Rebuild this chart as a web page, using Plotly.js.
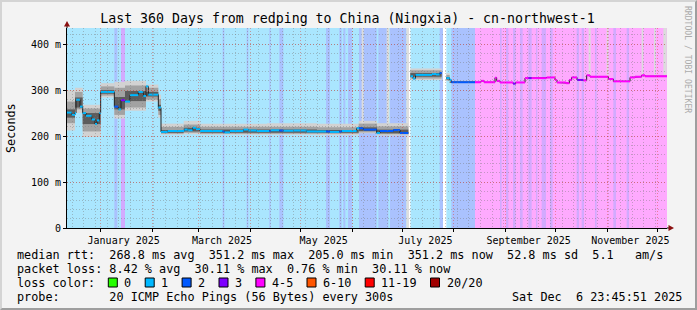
<!DOCTYPE html>
<html><head><meta charset="utf-8">
<script src="https://cdn.plot.ly/plotly-3.0.1.min.js"></script>
<style>
html,body{margin:0;padding:0;background:#f3f3f3;}
#wrap{position:relative;width:697px;height:310px;overflow:hidden;}
#chart{position:absolute;left:0;top:0;width:697px;height:310px;}
#frame{position:absolute;left:0;top:0;width:697px;height:310px;box-sizing:border-box;border-top:2px solid #d4d4d4;border-left:2px solid #d4d4d4;border-right:2px solid #9e9e9e;border-bottom:2px solid #9e9e9e;pointer-events:none;}
</style></head><body>
<div id="wrap"><div id="chart"></div><div id="frame"></div></div>
<script>
// ---------- data (days measured from the start of the 360 day window) ----------
const DAY = 86400000;
const T0 = Date.UTC(2024, 11, 11, 23, 45, 51);   // Sat Dec 6 23:45:51 2025 minus 360 days
const SPAN_DAYS = 360;
const Y_TOP = 435;

// background loss runs (0 = no data, 1..4 = loss class, 5 = grey)
const bgFrom = [0, 244.8, 28.4, 32.4, 93.4, 107.8, 121.4, 127.4, 155.4, 163.4, 165.8, 168.6, 175.2, 186.8, 193.8, 203.6, 205.2, 223.6, 225.6, 230.6, 259.8, 263.4, 267.6, 271.8, 276.8, 281.4, 284.8, 289.8, 305.8, 308.8, 316.8, 327.8, 335.8];
const bgTo   = [244.8, 360, 30.2, 34.8, 94.4, 108.8, 122.2, 129.8, 157.8, 164.8, 167.0, 171.0, 185.8, 192.8, 203.6, 205.2, 206.1, 225.6, 227.6, 244.8, 260.8, 264.8, 269.2, 273.4, 278.8, 282.2, 287.4, 291.4, 307.2, 310.2, 317.8, 329.4, 337.2];
const bgLoss = [1, 4, 2, 3, 2, 2, 2, 2, 2, 2, 2, 2, 2, 2, 2, 5, 0, 2, 0, 2, 3, 3, 3, 3, 3, 3, 3, 3, 3, 3, 3, 3, 3];

// median rtt (ms) step segments with loss class
const medFrom = [0, 2.8, 4.8, 5.4, 7.8, 9.4, 11.4, 14.8, 16.8, 18, 19.4, 20.2, 28.4, 30.8, 32.4, 34.8, 37.8, 42.8, 45.8, 47.4, 48.8, 54.8,
  56.4, 60.4, 70.4, 72.4, 75.4, 77.4, 79.8, 93.4, 94.4, 97.8, 105.8, 108.8, 113.8, 121.4, 122.2, 127.4, 129.8, 135.8, 143.8, 155.4, 157.8, 163.4, 164.8, 173.8, 175.2, 177.8, 185.8, 187.8, 195.8, 199.8,
  206.0, 207.6, 209.1, 219, 221.4, 223.6,
  227.6, 229.6, 230.6, 244.8, 248.4, 250.2, 256.8, 257.8, 259.8, 267.6, 269.2, 274.8, 276.8, 278.8, 287.8, 292.8, 294, 299.4, 301.4, 302.8, 306, 309.8, 311.8, 313.8, 324.8, 327.8, 337.8, 340.8, 344.8, 346.8];
const medTo = [2.8, 4.8, 5.4, 7.8, 9.4, 11.4, 14.8, 16.8, 18, 19.4, 20.2, 28.4, 30.8, 32.4, 34.8, 37.8, 42.8, 45.8, 47.4, 48.8, 54.8, 56.4,
  60.4, 70.4, 72.4, 75.4, 77.4, 79.8, 93.4, 94.4, 97.8, 105.8, 108.8, 113.8, 121.4, 122.2, 127.4, 129.8, 135.8, 143.8, 155.4, 157.8, 163.4, 164.8, 173.8, 175.2, 177.8, 185.8, 187.8, 195.8, 199.8, 204.8,
  207.6, 209.1, 219, 221.4, 223.6, 224.8,
  229.6, 230.6, 244.8, 248.4, 250.2, 256.8, 257.8, 259.8, 267.6, 269.2, 274.8, 276.8, 278.8, 287.8, 292.8, 294, 299.4, 301.4, 302.8, 306, 309.8, 311.8, 313.8, 324.8, 327.8, 337.8, 340.8, 344.8, 346.8, 360];
const medVal = [251, 246, 250, 279, 264, 250, 244, 236, 226, 234, 250, 296, 264, 258, 278, 275, 289, 296, 287, 308, 290, 262,
  209, 211, 214, 212.5, 218, 215, 211, 210, 208, 211, 214, 212, 211, 211, 212.5, 212, 211.5, 212, 210, 210, 209, 210, 211, 217, 217, 214, 206.5, 211, 213, 206.5,
  330, 325, 333, 335, 334, 337,
  326, 322, 317, 317, 320, 317, 327, 320, 316.5, 314, 316.5, 326, 326, 326, 327.5, 322, 316.5, 315, 322, 327.5, 322, 321, 332, 329, 324, 319, 327.5, 329, 332, 330];
const medLoss = [1, 1, 1, 1, 1, 1, 1, 1, 1, 1, 1, 1, 2, 1, 3, 1, 1, 1, 1, 1, 1, 1,
  1, 1, 1, 1, 1, 1, 1, 2, 1, 1, 1, 1, 1, 2, 1, 2, 1, 1, 1, 2, 1, 2, 1, 1, 2, 2, 1, 2, 2, 2,
  1, 1, 1, 1, 1, 2,
  1, 1, 2, 4, 4, 4, 4, 4, 4, 3, 4, 4, 3, 4, 4, 4, 4, 4, 4, 4, 3, 4, 4, 4, 4, 4, 4, 4, 4, 4];

// smoke (spread of the 20 pings): outer, middle and core bands, ms
const smokeFrom = [0, 4.8, 9.4, 20.2, 28.4, 34.8, 47.4, 54.8, 56.4, 70, 80, 120, 150, 175, 186, 206.0, 227.6, 229.6];
const smokeTo   = [4.8, 9.4, 20.2, 28.4, 34.8, 47.4, 54.8, 56.4, 70, 80, 120, 150, 175, 186, 204.8, 224.8, 229.6, 244.8];
const outerLo = [212, 250, 198, 284, 238, 255, 275, 240, 203, 204, 203, 203, 202, 206, 201, 322, 320, 315];
const outerHi = [300, 305, 268, 315, 318, 320, 312, 290, 227, 233, 227, 228, 227, 233, 228, 347, 337, 320];
const innerLo = [228, 258, 210, 288, 246, 262, 279, 246, 205, 207, 205, 205, 205, 208, 204, 325, 321, 316];
const innerHi = [275, 296, 260, 308, 305, 310, 305, 280, 220, 225, 220, 220, 219, 227, 221, 343, 333, 319];
const coreLo  = [240, 262, 226, 292, 258, 276, 286, 255, 207, 210, 207, 207, 207, 211, 206, 329, 323, 316];
const coreHi  = [258, 284, 250, 300, 285, 298, 296, 268, 213, 218, 214, 214, 213, 219, 214, 337, 328, 318];

// smoke columns that run off the top of the graph
const spikeFrom = [176.8, 191.8, 313.0, 323.8, 344.8, 352.2, 357.8];
const spikeTo   = [178.0, 193.4, 314.2, 324.8, 345.8, 353.2, 359.8];
const spikeBase = [228, 228, 334, 332, 334, 333, 333];

// axes
const yTickVals = [0, 100, 200, 300, 400];
const yTickText = ['0', '100 m', '200 m', '300 m', '400 m'];
const yMajorGrid = [100, 200, 300, 400];
const monthStarts = ['2025-01-01','2025-02-01','2025-03-01','2025-04-01','2025-05-01','2025-06-01','2025-07-01','2025-08-01','2025-09-01','2025-10-01','2025-11-01','2025-12-01'];
const labelDates = ['2025-01-15','2025-03-15','2025-05-15','2025-07-15','2025-09-15','2025-11-15'];
const labelText = ['January 2025','March 2025','May 2025','July 2025','September 2025','November 2025'];
const firstWeekLine = '2024-12-15';

// texts
const TITLE = 'Last 360 Days from redping to China (Ningxia) - cn-northwest-1';
const legendRows = [
  'median rtt:  268.8 ms avg  351.2 ms max  205.0 ms min  351.2 ms now  52.8 ms sd  5.1   am/s',
  'packet loss: 8.42 % avg  30.11 % max  0.76 % min  30.11 % now',
  'loss color:',
  'probe:       20 ICMP Echo Pings (56 Bytes) every 300s'
];
const stampText = 'Sat Dec  6 23:45:51 2025';
const lossLabels = ['0', '1', '2', '3', '4-5', '6-10', '11-19', '20/20'];
const lossColors = ['#26ff00', '#00b8ff', '#0059ff', '#7e00ff', '#ff00ff', '#ff5500', '#ff0000', '#a00000'];
const bgColors = {0: '#ffffff', 1: '#aae6fe', 2: '#aac2fe', 3: '#d2aafe', 4: '#feaafe', 5: '#dedede'};
const lineColors = {1: '#00b8ff', 2: '#0059ff', 3: '#7e00ff', 4: '#ff00ff'};

// ---------- build ----------
const FONT = 'DejaVu Sans Mono';
const X0 = 67, PW = 600, Y0 = 228, PH = 200;
const pX = px => (px - X0) / PW;
const pY = py => (Y0 - py) / PH;
const toX = d => T0 + d * DAY;
const nb = s => s.replace(/ /g, '\u00a0');
const xr = [toX(0), toX(SPAN_DAYS)];

function bandTrace(from, to, lo, hi, color) {
  return {
    type: 'bar', xaxis: 'x', yaxis: 'y',
    x: from.map((f, i) => toX((f + to[i]) / 2)),
    width: from.map((f, i) => (to[i] - f) * DAY),
    base: lo, y: hi.map((h, i) => h - lo[i]),
    marker: {color: color, line: {width: 0}},
    hoverinfo: 'skip', showlegend: false
  };
}

const traces = [];
traces.push(bandTrace(bgFrom, bgTo, bgFrom.map(() => 0), bgFrom.map(() => Y_TOP), bgLoss.map(c => bgColors[c])));
traces.push(bandTrace(smokeFrom, smokeTo, outerLo, outerHi, '#d2d2d2'));
traces.push(bandTrace(smokeFrom, smokeTo, innerLo, innerHi, '#a2a2a2'));
traces.push(bandTrace(smokeFrom, smokeTo, coreLo, coreHi, '#5c5c5c'));
traces.push(bandTrace(spikeFrom, spikeTo, spikeBase, spikeFrom.map(() => Y_TOP), '#dcdcdc'));

// black median line
const lx = [], ly = [];
for (let i = 0; i < medFrom.length; i++) {
  if (i > 0 && medFrom[i] - medTo[i - 1] > 0.01) { lx.push(null); ly.push(null); }
  lx.push(toX(medFrom[i]), toX(medTo[i])); ly.push(medVal[i], medVal[i]);
}
traces.push({type: 'scatter', mode: 'lines', x: lx, y: ly, line: {color: '#202020', width: 1}, hoverinfo: 'skip', showlegend: false});
// colored median pieces by loss
[1, 2, 3, 4].forEach(c => {
  const xs = [], ys = [];
  for (let i = 0; i < medFrom.length; i++) {
    if (medLoss[i] !== c) continue;
    xs.push(toX(medFrom[i]), toX(medTo[i]), null); ys.push(medVal[i], medVal[i], null);
  }
  traces.push({type: 'scatter', mode: 'lines', x: xs, y: ys, line: {color: lineColors[c], width: 2}, hoverinfo: 'skip', showlegend: false});
});
// grid subplots drawn on top (weekly/minor grid, then monthly/major grid)
traces.push({type: 'scatter', mode: 'lines', x: [xr[0]], y: [null], xaxis: 'x2', yaxis: 'y2', hoverinfo: 'skip', showlegend: false});
traces.push({type: 'scatter', mode: 'lines', x: [xr[0]], y: [null], xaxis: 'x3', yaxis: 'y3', hoverinfo: 'skip', showlegend: false});

const gridRed = 'rgba(222,48,32,0.42)';
const gridGrey = 'rgba(120,120,120,0.42)';
const DASH = '1px,2px';
const tickFont = {family: FONT, size: 10, color: '#000'};
const legFont = {family: FONT, size: 11.8, color: '#000'};

const annotations = [];
annotations.push({xref: 'paper', yref: 'paper', x: pX(11), y: 0.5, text: 'Seconds', textangle: -90, showarrow: false, xanchor: 'center', yanchor: 'middle', font: legFont, borderpad: 0});
annotations.push({xref: 'paper', yref: 'paper', x: pX(688), y: pY(59), text: nb('RRDTOOL / TOBI OETIKER'), textangle: 90, showarrow: false, xanchor: 'center', yanchor: 'middle', font: {family: FONT, size: 8.1, color: '#ababab'}, borderpad: 0});
const rowY = [254.5, 268.5, 282.5, 296.5];
legendRows.forEach((t, i) => annotations.push({xref: 'paper', yref: 'paper', x: pX(16), y: pY(rowY[i]), text: nb(t), showarrow: false, xanchor: 'left', yanchor: 'middle', font: legFont, borderpad: 0}));
annotations.push({xref: 'paper', yref: 'paper', x: pX(683), y: pY(rowY[3]), text: nb(stampText), showarrow: false, xanchor: 'right', yanchor: 'middle', font: legFont, borderpad: 0});

const shapes = [];
let bx = 108.3;
lossLabels.forEach((lab, i) => {
  shapes.push({type: 'rect', xref: 'paper', yref: 'paper', x0: pX(bx), x1: pX(bx + 9), y0: pY(rowY[2] + 4.5), y1: pY(rowY[2] - 4.5), fillcolor: lossColors[i], line: {color: '#000', width: 1}});
  annotations.push({xref: 'paper', yref: 'paper', x: pX(bx + 15), y: pY(rowY[2]), text: nb(lab), showarrow: false, xanchor: 'left', yanchor: 'middle', font: legFont, borderpad: 0});
  bx += 29.8 + 7.1 * lab.length;
});
// axis arrows
const arrowCol = '#8b1010';
shapes.push({type: 'line', xref: 'paper', yref: 'paper', x0: 0, x1: 0, y0: 1, y1: pY(23), line: {color: '#000', width: 1}});
shapes.push({type: 'path', xref: 'paper', yref: 'paper', path: `M ${pX(64)} ${pY(26.5)} L ${pX(70)} ${pY(26.5)} L ${pX(67)} ${pY(21)} Z`, fillcolor: arrowCol, line: {width: 0}});
shapes.push({type: 'line', xref: 'paper', yref: 'paper', x0: 1, x1: pX(670), y0: 0, y1: 0, line: {color: '#000', width: 1}});
shapes.push({type: 'path', xref: 'paper', yref: 'paper', path: `M ${pX(668.5)} ${pY(225)} L ${pX(668.5)} ${pY(231)} L ${pX(674)} ${pY(228)} Z`, fillcolor: arrowCol, line: {width: 0}});

const hidden = {showticklabels: false, zeroline: false, showline: false, fixedrange: true};
const layout = {
  width: 697, height: 310,
  margin: {l: 67, r: 30, t: 28, b: 82, pad: 0},
  paper_bgcolor: '#f3f3f3', plot_bgcolor: 'rgba(0,0,0,0)',
  showlegend: false, barmode: 'overlay',
  title: {text: nb(TITLE), font: {family: FONT, size: 13.25, color: '#000'}, x: 0.4986, xref: 'container', xanchor: 'center', y: 1 - 18.5 / 310, yref: 'container', yanchor: 'middle'},
  xaxis: {type: 'date', range: xr, tickmode: 'array', tickvals: labelDates, ticktext: labelText, showgrid: false, zeroline: false,
    showline: true, linecolor: '#000', linewidth: 1, ticks: '', tickfont: tickFont, ticklabelstandoff: 3, fixedrange: true},
  yaxis: {range: [0, Y_TOP], tickmode: 'array', tickvals: yTickVals, ticktext: yTickText, showgrid: false, zeroline: false,
    showline: true, linecolor: '#000', linewidth: 1, ticks: 'outside', ticklen: 3, tickcolor: '#000', tickfont: tickFont, fixedrange: true},
  // weekly / 20 m grid
  xaxis2: Object.assign({type: 'date', anchor: 'y2', range: xr, tickmode: 'linear', tick0: firstWeekLine, dtick: 7 * DAY,
    showgrid: true, gridcolor: gridGrey, griddash: DASH, gridwidth: 1, ticks: ''}, hidden),
  yaxis2: Object.assign({anchor: 'x2', range: [0, Y_TOP], tickmode: 'linear', tick0: 0, dtick: 20,
    showgrid: true, gridcolor: gridGrey, griddash: DASH, gridwidth: 1, ticks: ''}, hidden),
  // month / 100 m grid
  xaxis3: Object.assign({type: 'date', anchor: 'y3', range: xr, tickmode: 'array', tickvals: monthStarts,
    showgrid: true, gridcolor: gridRed, griddash: DASH, gridwidth: 1, ticks: 'outside', ticklen: 3, tickcolor: '#000'}, hidden),
  yaxis3: Object.assign({anchor: 'x3', range: [0, Y_TOP], tickmode: 'array', tickvals: yMajorGrid,
    showgrid: true, gridcolor: gridRed, griddash: DASH, gridwidth: 1, ticks: ''}, hidden),
  shapes: shapes,
  annotations: annotations
};

Plotly.newPlot('chart', traces, layout, {staticPlot: true, displayModeBar: false});
</script></body></html>
